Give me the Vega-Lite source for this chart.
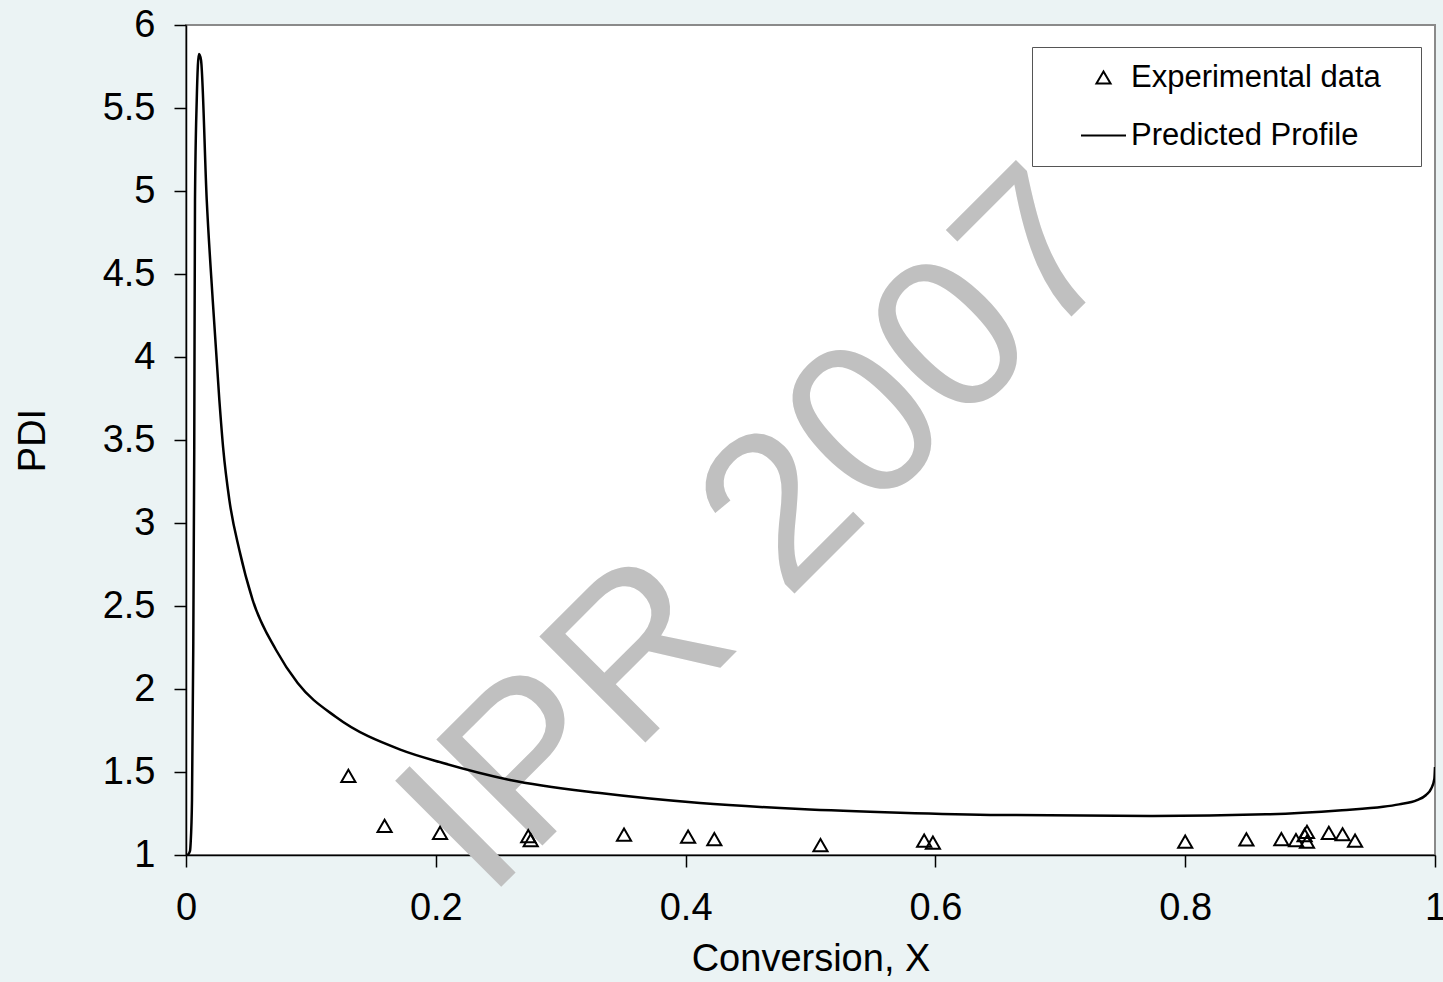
{
  "$schema": "https://vega.github.io/schema/vega-lite/v6.json",
  "width": 1249,
  "height": 830,
  "autosize": {"type": "none"},
  "padding": {"left": 186, "top": 25, "right": 8, "bottom": 127},
  "background": "#ebf3f4",
  "config": {
    "font": "Liberation Sans",
    "view": {"fill": "white", "stroke": "#8a8a8a", "strokeWidth": 2},
    "axis": {
      "grid": false,
      "domainColor": "black",
      "domainWidth": 1.5,
      "tickColor": "black",
      "tickWidth": 1.5,
      "tickSize": 12,
      "labelFont": "Liberation Sans",
      "labelFontSize": 38,
      "labelColor": "black",
      "labelOverlap": false,
      "labelFlush": false,
      "labelBound": false,
      "titleFont": "Liberation Sans",
      "titleFontSize": 38,
      "titleFontWeight": "normal",
      "titleColor": "black"
    },
    "legend": {
      "labelFont": "Liberation Sans",
      "labelFontSize": 31,
      "labelColor": "black",
      "fillColor": "white",
      "strokeColor": "#555555",
      "padding": 15,
      "symbolOffset": 33,
      "labelOffset": 4,
      "rowPadding": 19,
      "symbolStrokeColor": "black",
      "symbolFillColor": "transparent",
      "symbolStrokeWidth": 2,
      "labelLimit": 400,
      "titleOrient": "right",
      "titlePadding": 25,
      "titleFontSize": 30
    }
  },
  "datasets": {
    "profile": [
      {"x": 0, "y": 1.0},
      {"x": 0.0016, "y": 1.003},
      {"x": 0.0032, "y": 1.024},
      {"x": 0.0037, "y": 1.07},
      {"x": 0.0048, "y": 1.331},
      {"x": 0.0058, "y": 2.235},
      {"x": 0.0066, "y": 3.44},
      {"x": 0.0072, "y": 4.946},
      {"x": 0.0086, "y": 5.548},
      {"x": 0.0104, "y": 5.825},
      {"x": 0.012, "y": 5.79},
      {"x": 0.0166, "y": 4.946},
      {"x": 0.0214, "y": 4.343},
      {"x": 0.0267, "y": 3.741},
      {"x": 0.0299, "y": 3.44},
      {"x": 0.0347, "y": 3.139},
      {"x": 0.0427, "y": 2.837},
      {"x": 0.0534, "y": 2.536},
      {"x": 0.0721, "y": 2.235},
      {"x": 0.0894, "y": 2.036},
      {"x": 0.1201, "y": 1.831},
      {"x": 0.1721, "y": 1.633},
      {"x": 0.2058, "y": 1.554},
      {"x": 0.2594, "y": 1.452},
      {"x": 0.3315, "y": 1.373},
      {"x": 0.4115, "y": 1.313},
      {"x": 0.4916, "y": 1.277},
      {"x": 0.5717, "y": 1.255},
      {"x": 0.6525, "y": 1.241},
      {"x": 0.7742, "y": 1.235},
      {"x": 0.8647, "y": 1.245},
      {"x": 0.9255, "y": 1.27},
      {"x": 0.9584, "y": 1.29},
      {"x": 0.9712, "y": 1.305},
      {"x": 0.9856, "y": 1.33},
      {"x": 0.9926, "y": 1.36},
      {"x": 0.997, "y": 1.4},
      {"x": 0.9995, "y": 1.46},
      {"x": 1.0, "y": 1.53}
    ],
    "experimental": [
      {"x": 0.13, "y": 1.476, "series": "Experimental data"},
      {"x": 0.159, "y": 1.175, "series": "Experimental data"},
      {"x": 0.2034, "y": 1.134, "series": "Experimental data"},
      {"x": 0.274, "y": 1.114, "series": "Experimental data"},
      {"x": 0.276, "y": 1.09, "series": "Experimental data"},
      {"x": 0.3507, "y": 1.122, "series": "Experimental data"},
      {"x": 0.402, "y": 1.11, "series": "Experimental data"},
      {"x": 0.423, "y": 1.096, "series": "Experimental data"},
      {"x": 0.508, "y": 1.06, "series": "Experimental data"},
      {"x": 0.591, "y": 1.086, "series": "Experimental data"},
      {"x": 0.598, "y": 1.074, "series": "Experimental data"},
      {"x": 0.8, "y": 1.08, "series": "Experimental data"},
      {"x": 0.849, "y": 1.094, "series": "Experimental data"},
      {"x": 0.877, "y": 1.096, "series": "Experimental data"},
      {"x": 0.8887, "y": 1.09, "series": "Experimental data"},
      {"x": 0.8956, "y": 1.12, "series": "Experimental data"},
      {"x": 0.8975, "y": 1.14, "series": "Experimental data"},
      {"x": 0.8975, "y": 1.08, "series": "Experimental data"},
      {"x": 0.915, "y": 1.134, "series": "Experimental data"},
      {"x": 0.926, "y": 1.125, "series": "Experimental data"},
      {"x": 0.936, "y": 1.086, "series": "Experimental data"}
    ],
    "watermark": [
      {"x": 0.241, "y": 0.723, "label": "IPR 2007"}
    ]
  },
  "encoding": {
    "x": {
      "field": "x",
      "type": "quantitative",
      "scale": {"domain": [0, 1], "nice": false, "zero": false},
      "axis": {"values": [0, 0.2, 0.4, 0.6, 0.8, 1], "format": "~g", "title": "Conversion, X", "labelPadding": 22, "titlePadding": 13}
    },
    "y": {
      "field": "y",
      "type": "quantitative",
      "scale": {"domain": [1, 6], "nice": false, "zero": false},
      "axis": {"values": [1, 1.5, 2, 2.5, 3, 3.5, 4, 4.5, 5, 5.5, 6], "format": "~g", "title": "PDI", "labelPadding": 19, "titlePadding": 50}
    }
  },
  "layer": [
    {
      "data": {"name": "watermark"},
      "mark": {"type": "text", "align": "left", "baseline": "alphabetic", "angle": -45, "fontSize": 218, "font": "Liberation Sans", "color": "#c0c0c0", "clip": false},
      "encoding": {"text": {"field": "label"}}
    },
    {
      "data": {"name": "profile"},
      "mark": {"type": "line", "color": "black", "strokeWidth": 2.5, "interpolate": "monotone", "clip": true}
    },
    {
      "data": {"name": "experimental"},
      "mark": {"type": "point", "filled": false, "color": "black", "strokeWidth": 2, "opacity": 1},
      "encoding": {
        "shape": {
          "field": "series",
          "type": "nominal",
          "scale": {"domain": ["Experimental data", "Predicted Profile"], "range": ["triangle-up", "stroke"]},
          "legend": {
            "title": " ",
            "orient": "none",
            "legendX": 846,
            "legendY": 22
          }
        },
        "size": {
          "field": "series",
          "type": "nominal",
          "scale": {"domain": ["Experimental data", "Predicted Profile"], "range": [200, 2025]},
          "legend": {
            "title": " ",
            "orient": "none",
            "legendX": 846,
            "legendY": 22
          }
        }
      }
    }
  ]
}
